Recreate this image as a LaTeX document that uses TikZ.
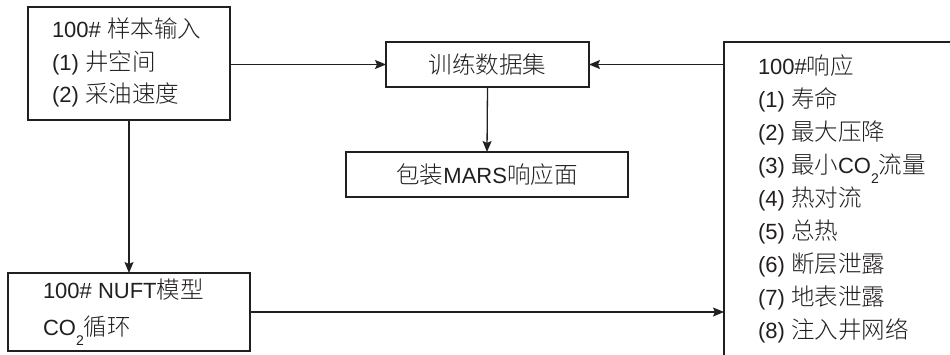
\documentclass[tikz,border=0pt]{standalone}
\usepackage{fontspec}
\setmainfont{Liberation Sans}
\newfontfamily\cjk[Scale=1.07,UprightFont=* Light]{Noto Sans CJK SC}
\usetikzlibrary{arrows.meta}
\newcommand{\zh}[1]{{\cjk #1}}
\newcommand{\lowtwo}{\raisebox{-10pt}{\fontsize{14}{14}\selectfont 2}}
\definecolor{ink}{RGB}{35,31,32}
\begin{document}
\begin{tikzpicture}[x=1pt,y=-1pt,
  box/.style={draw=ink, line width=1.3pt, rectangle, inner sep=0pt, outer sep=0pt,
              text=ink, font=\fontsize{22}{33}\selectfont},
  txt/.style={anchor=base west, inner sep=0pt, outer sep=0pt, text=ink,
              font=\fontsize{22}{33}\selectfont},
  arr/.style={draw=ink, line width=1.3pt, -{Stealth[length=11pt,width=9pt,inset=2pt]}}]
\useasboundingbox (0,0) rectangle (950,354);
\clip (0,0) rectangle (950,354);
\fill[white] (0,0) rectangle (950,354);

% boxes
\node[box, minimum width=202pt, minimum height=113pt] (b1) at (129,63.5) {};
\node[box, minimum width=203pt, minimum height=45pt] (train) at (487.5,64.5) {\zh{训练数据集}};
\node[box, minimum width=282pt, minimum height=45pt] (mars) at (487,174.5) {\zh{包装}MARS\zh{响应面}};
\node[box, minimum width=242pt, minimum height=78pt] (nuft) at (129,312) {};
\node[box, minimum width=276pt, minimum height=358pt] (resp) at (862,221) {};

% texts of box 1
\node[txt] (b1a) at (52,37) {100\# \zh{样本输入}};
\node[txt] (b1b) at (52,70) {(1) \zh{井空间}};
\node[txt] (b1c) at (52,102) {(2) \zh{采油速度}};

% texts of NUFT box
\node[txt] (nfa) at (43,298) {100\# NUFT\zh{模型}};
\node[txt] (nfb) at (43,335) {CO\lowtwo\zh{循环}};

% texts of response box
\node[txt] (r0) at (758,74) {100\#\zh{响应}};
\node[txt] (r1) at (758,107) {(1) \zh{寿命}};
\node[txt] (r2) at (758,140) {(2) \zh{最大压降}};
\node[txt] (r3) at (758,173) {(3) \zh{最小}CO\lowtwo\zh{流量}};
\node[txt] (r4) at (758,206) {(4) \zh{热对流}};
\node[txt] (r5) at (758,239) {(5) \zh{总热}};
\node[txt] (r6) at (758,272) {(6) \zh{断层泄露}};
\node[txt] (r7) at (758,305) {(7) \zh{地表泄露}};
\node[txt] (r8) at (758,338) {(8) \zh{注入井网络}};

% connectors
\draw[arr] (b1.east |- train.west) -- (train.west);
\draw[arr] (train.south) -- (mars.north);
\draw[arr] (resp.west |- train.east) -- (train.east);
\draw[arr] (b1.south) -- (nuft.north);
\draw[arr] (nuft.east) -- (nuft.east -| resp.west);
\end{tikzpicture}
\end{document}
